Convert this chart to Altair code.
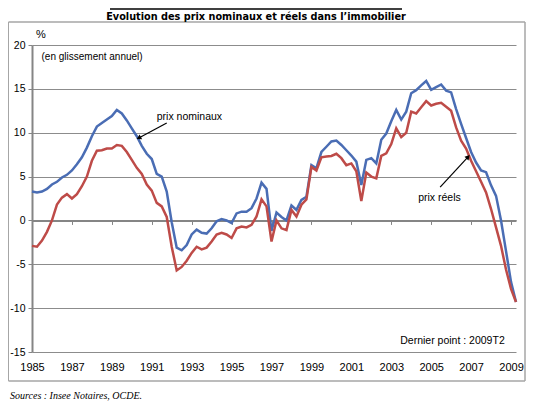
import math
import pandas as pd
import altair as alt

# ---------------- data ----------------
start_year = 1985  # first quarter: 1985T1, quarterly data up to 2009T2
nominaux = [3.3, 3.2, 3.3, 3.6, 4.1, 4.4, 4.9, 5.2, 5.7, 6.4,
            7.2, 8.3, 9.6, 10.7, 11.1, 11.5, 11.9, 12.6, 12.2, 11.4,
            10.5, 9.6, 8.5, 7.6, 7.0, 5.3, 5.0, 3.3, -0.2, -3.1,
            -3.4, -2.8, -1.6, -1.05, -1.4, -1.5, -0.9, -0.1, 0.15, 0.0,
            -0.3, 0.8, 1.0, 1.0, 1.4, 2.5, 4.3, 3.6, -1.2, 0.9,
            0.4, 0.0, 1.7, 1.2, 2.35, 2.7, 6.3, 5.95, 7.8, 8.4,
            9.0, 9.1, 8.6, 8.0, 7.4, 6.7, 4.05, 6.9, 7.1, 6.5,
            9.2, 9.9, 11.3, 12.6, 11.5, 12.4, 14.5, 14.85, 15.4, 15.9,
            14.9, 15.2, 15.5, 14.8, 14.6, 12.7, 11.0, 9.4, 7.8, 6.6,
            5.7, 5.5, 4.0, 2.8, 0.0, -3.5, -7.0, -9.3]
reels = [-2.9, -3.0, -2.3, -1.3, 0.0, 1.8, 2.6, 3.0, 2.5, 3.0,
         3.9, 5.0, 6.8, 7.95, 8.0, 8.2, 8.2, 8.6, 8.5, 7.8,
         6.9, 6.0, 5.3, 4.1, 3.4, 2.0, 1.6, 0.4, -3.0, -5.7,
         -5.3, -4.6, -3.7, -3.0, -3.3, -3.1, -2.4, -1.6, -1.4, -1.6,
         -2.0, -0.9, -0.7, -0.8, -0.5, 0.45, 2.4, 1.6, -2.4, 0.0,
         -0.9, -1.1, 1.2, 0.45, 1.8, 2.4, 6.1, 5.7, 7.2, 7.3,
         7.35, 7.6, 7.1, 6.3, 6.5, 5.6, 2.2, 5.45, 5.0, 4.8,
         7.35, 7.65, 8.7, 10.5, 9.5, 10.0, 12.4, 12.2, 12.9, 13.6,
         13.1, 13.3, 13.4, 12.95, 12.5, 10.6, 9.1, 8.2, 6.8, 5.6,
         4.4, 3.2, 1.3, -0.8, -2.9, -5.6, -7.8, -9.3]
series_names = ["prix nominaux", "prix réels"]
series_colors = ["#4A6DB4", "#BE4B48"]
year_labels = [1985, 1987, 1989, 1991, 1993, 1995, 1997, 1999, 2001, 2003, 2005, 2007, 2009]
y_ticks = [-15, -10, -5, 0, 5, 10, 15, 20]

# annotations (data coordinates)
ann_text = ["prix nominaux", "prix réels", "Dernier point : 2009T2"]
ann_t = [1991.25, 2004.35, 2003.45]
ann_v = [11.8, 2.6, -13.7]
arrow_from_t = [1991.75, 2005.45]
arrow_from_v = [11.1, 3.8]
arrow_to_t = [1990.35, 2006.85]
arrow_to_v = [9.4, 7.25]

# ---------------- layout ----------------
W, H = 484, 307
XDOM = [1985, 2009.25]
YDOM = [-15, 20]


def px(t):
    return (t - XDOM[0]) / (XDOM[1] - XDOM[0]) * W


def py(v):
    return (YDOM[1] - v) / (YDOM[1] - YDOM[0]) * H


rows = []
for name, vals in zip(series_names, [nominaux, reels]):
    for q, v in enumerate(vals):
        rows.append({"t": start_year + q / 4.0, "value": v, "serie": name})
df = pd.DataFrame(rows)

xscale = alt.Scale(domain=XDOM, nice=False, zero=False)
yscale = alt.Scale(domain=YDOM, nice=False, zero=False)
FONT = "Liberation Sans"
AX = "#858585"

zero_offset = -(0 - YDOM[0]) / (YDOM[1] - YDOM[0]) * H

Y_AXIS = alt.Axis(values=y_ticks, grid=True, gridColor="#8C8C8C", gridWidth=1,
                  domainColor=AX, domainWidth=2, tickColor=AX, tickSize=4,
                  labelPadding=3, labelFontSize=10.5, labelFont=FONT, labelColor="black",
                  labelExpr="'' + datum.value", title=None)

one = pd.DataFrame({"a": [0]})
FR = "#A6A6A6"
frame_top = alt.Chart(one).mark_rule(color=FR, strokeWidth=1.5).encode(
    x=alt.value(-23.5), x2=alt.value(493), y=alt.value(-23))
frame_bottom = alt.Chart(one).mark_rule(color=FR, strokeWidth=1.5).encode(
    x=alt.value(-23.5), x2=alt.value(493), y=alt.value(336))
frame_left = alt.Chart(one).mark_rule(color=FR, strokeWidth=1).encode(
    x=alt.value(-23.5), y=alt.value(-23), y2=alt.value(336))
frame_right = alt.Chart(one).mark_rule(color=FR, strokeWidth=1.5).encode(
    x=alt.value(493), y=alt.value(-23), y2=alt.value(336))

lines = alt.Chart(df).mark_line(strokeWidth=2.5).encode(
    x=alt.X("t:Q", scale=xscale,
            axis=alt.Axis(orient="bottom", offset=zero_offset, values=year_labels, labels=False,
                          ticks=True, tickSize=4, tickColor=AX, domainColor=AX, domainWidth=2,
                          grid=False, title=None)),
    y=alt.Y("value:Q", scale=yscale, axis=Y_AXIS),
    color=alt.Color("serie:N", scale=alt.Scale(domain=series_names, range=series_colors), legend=None),
    order="t:Q",
)

ydf = pd.DataFrame({"year": year_labels, "v": [0] * len(year_labels)})
xlabels = alt.Chart(ydf).mark_point(opacity=0).encode(
    x=alt.X("year:Q", scale=xscale,
            axis=alt.Axis(orient="bottom", values=year_labels, format="d", ticks=False, domain=False,
                          grid=False, labelFontSize=11, labelFont=FONT, labelColor="black",
                          labelFlush=False, labelOverlap=False, labelPadding=9, title=None)),
    y=alt.Y("v:Q", scale=yscale, axis=Y_AXIS),
)

adf = pd.DataFrame({"text": ann_text, "t": ann_t, "v": ann_v})
ann = alt.Chart(adf).mark_text(align="left", baseline="middle", font=FONT, fontSize=10.5,
                               color="black").encode(
    x=alt.X("t:Q", scale=xscale, axis=None),
    y=alt.Y("v:Q", scale=yscale, axis=Y_AXIS),
    text="text:N",
)

angles = []
for t1, v1, t2, v2 in zip(arrow_from_t, arrow_from_v, arrow_to_t, arrow_to_v):
    dx = px(t2) - px(t1)
    dy = py(v2) - py(v1)
    ang = math.degrees(math.atan2(dx, -dy)) % 360
    angles.append(ang)
ardf = pd.DataFrame({"t": arrow_from_t, "v": arrow_from_v, "t2": arrow_to_t, "v2": arrow_to_v,
                     "angle": angles})
arrows = alt.Chart(ardf).mark_rule(color="black", strokeWidth=1.2).encode(
    x=alt.X("t:Q", scale=xscale, axis=None), y=alt.Y("v:Q", scale=yscale, axis=Y_AXIS),
    x2="t2:Q", y2="v2:Q")
heads = alt.Chart(ardf).mark_point(shape="triangle-up", filled=True, color="black", size=30,
                                   opacity=1).encode(
    x=alt.X("t2:Q", scale=xscale, axis=None), y=alt.Y("v2:Q", scale=yscale, axis=Y_AXIS),
    angle=alt.Angle("angle:Q", scale=None))

title_line = alt.Chart(one).mark_rule(color="black", strokeWidth=1.5).encode(
    x=alt.value(78), x2=alt.value(370), y=alt.value(-36))
title = alt.Chart(one).mark_text(text="Evolution des prix nominaux et réels dans l\u2019immobilier",
                                 font="DejaVu Sans Condensed",
                                 fontWeight="bold", fontSize=10.8, align="center",
                                 baseline="alphabetic", color="black").encode(
    x=alt.value(224), y=alt.value(-25.5))
pct = alt.Chart(one).mark_text(text="%", font=FONT, fontSize=11, align="left", baseline="middle",
                               color="black").encode(x=alt.value(4), y=alt.value(-10))
sub = alt.Chart(one).mark_text(text="(en glissement annuel)", font=FONT, fontSize=10, align="left",
                               baseline="middle", color="black").encode(
    x=alt.value(9.5), y=alt.value(12))
source = alt.Chart(one).mark_text(text="Sources : Insee Notaires, OCDE.", font="Liberation Serif",
                                  fontStyle="italic", fontSize=10, align="left",
                                  baseline="alphabetic", color="black").encode(
    x=alt.value(-22), y=alt.value(354))

chart = alt.layer(
    frame_top, frame_bottom, frame_left, frame_right, lines, xlabels, ann, arrows, heads,
    title_line, title, pct, sub, source
).resolve_axis(x="independent").properties(
    width=W, height=H,
    padding={"left": 24, "top": 37, "right": 19, "bottom": 50},
    autosize=alt.AutoSizeParams(type="none"),
    background="white",
).configure_view(strokeWidth=0)

chart.save("out.html", embed_options={"renderer": "svg", "actions": False})
